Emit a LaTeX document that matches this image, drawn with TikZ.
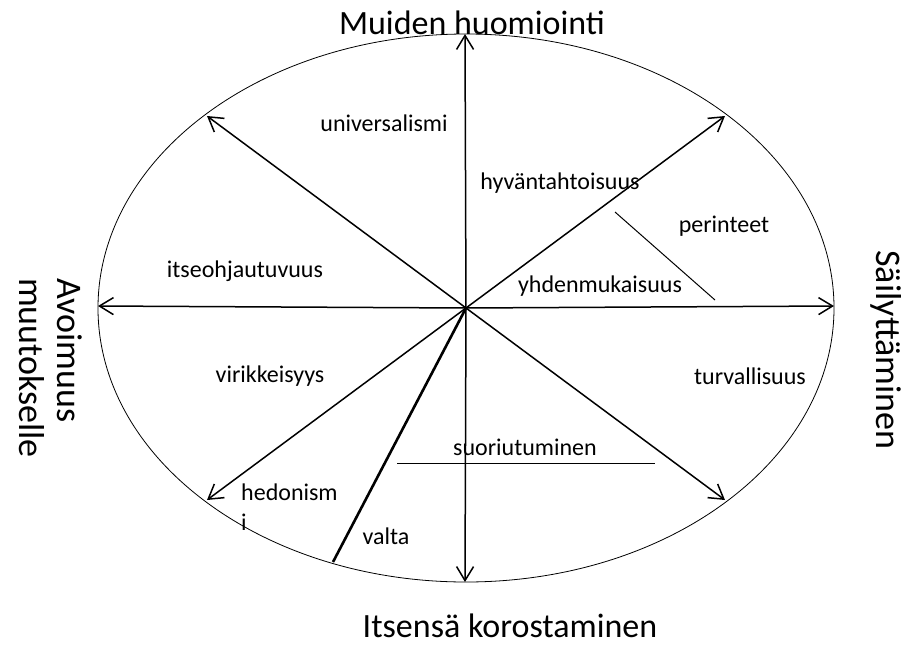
\documentclass[tikz,border=0pt]{standalone}
\usepackage{fontspec}
\setmainfont{Carlito}
\usetikzlibrary{arrows.meta}
\begin{document}
\begin{tikzpicture}[x=1pt,y=-1pt,
  axis/.style={line width=1.5pt,-{Straight Barb[length=14pt,width=17pt,line width=1.5pt]}},
  lbl/.style={font=\fontsize{24}{28}\selectfont,inner sep=0pt},
  big/.style={font=\fontsize{34}{38}\selectfont,inner sep=0pt},
  side/.style={font=\fontsize{36}{38}\selectfont,inner sep=0pt}]
\useasboundingbox (0,0) rectangle (906,646);
\coordinate (c) at (466,308);
\draw[line width=0.8pt] (c) ellipse [x radius=368, y radius=274];
\coordinate (n) at (465,34);
\coordinate (s) at (465,582);
\coordinate (w) at (98,306);
\coordinate (e) at (834,306);
\coordinate (nw) at (207,116);
\coordinate (ne) at (725,116);
\coordinate (sw) at (207,500);
\coordinate (se) at (725,500);
\coordinate (v) at (333,562);
\foreach \p in {n,s,w,e,nw,ne,sw,se} \draw[axis] (c) -- (\p);
\draw[line width=2.6pt] (c) -- (v);
\coordinate (a1) at (397,463);
\coordinate (a2) at (655,463);
\draw[line width=1pt] (a1) -- (a2);
\coordinate (p1) at (615,212);
\coordinate (p2) at (715,300);
\draw[line width=1pt] (p1) -- (p2);
\node[big,anchor=base] (t) at (472,34) {Muiden huomiointi};
\node[big,anchor=base] (b) at (510,637) {Itsensä korostaminen};
\node[side,rotate=-90,anchor=north west,align=left] (l) at (82,278) {Avoimuus\\muutokselle};
\node[side,rotate=-90] (r) at (886,350) {Säilyttäminen};
\node[lbl] (u) at (384,123) {universalismi};
\node[lbl] (h) at (560,183) {hyväntahtoisuus};
\node[lbl] (pe) at (724,226) {perinteet};
\node[lbl] (it) at (245,271) {itseohjautuvuus};
\node[lbl] (y) at (600,286) {yhdenmukaisuus};
\node[lbl] (vi) at (270,376) {virikkeisyys};
\node[lbl] (tu) at (750,376) {turvallisuus};
\node[lbl] (su) at (525,447) {suoriutuminen};
\node[lbl,anchor=west] (he) at (241,492) {hedonism};
\node[lbl,anchor=west] (hi) at (241,522) {i};
\node[lbl] (va) at (386,536) {valta};
\end{tikzpicture}
\end{document}
